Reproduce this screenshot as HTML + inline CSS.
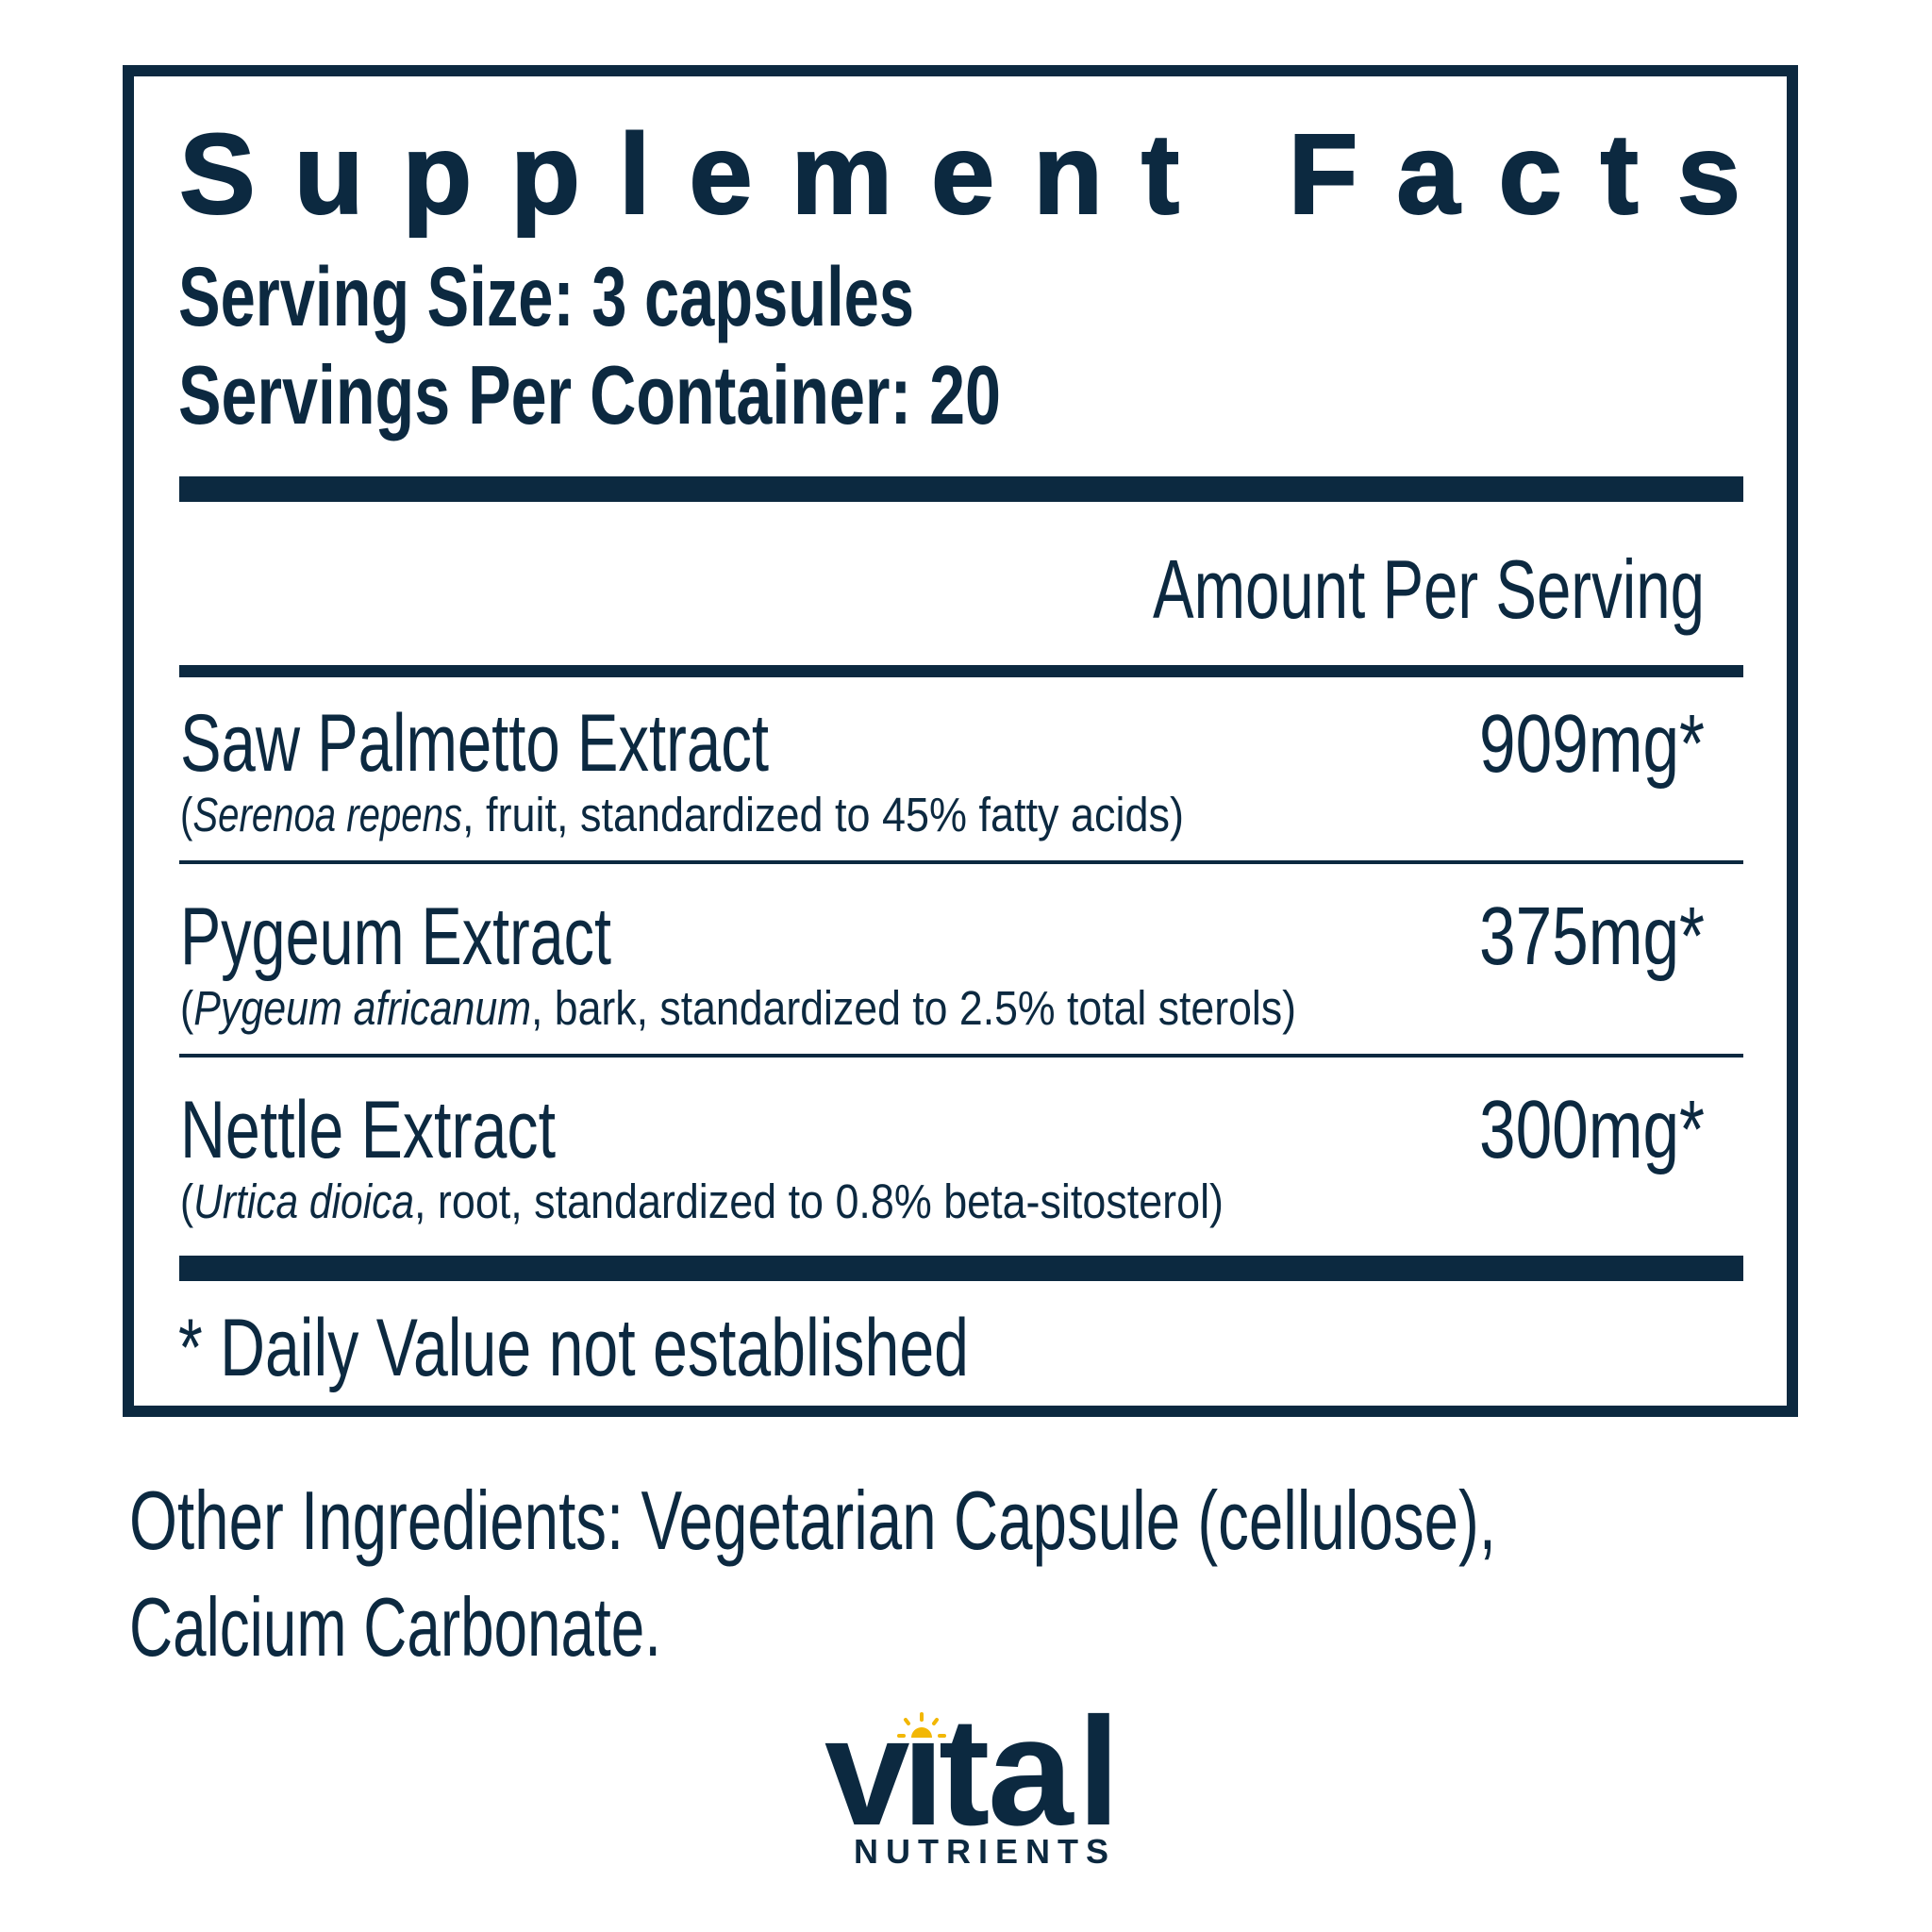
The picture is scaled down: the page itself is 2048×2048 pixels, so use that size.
<!DOCTYPE html>
<html>
<head>
<meta charset="utf-8">
<style>
html,body{margin:0;padding:0;background:#fff;}
svg{display:block;}
text{font-family:"Liberation Sans",Arial,sans-serif;fill:#0c2940;}
</style>
</head>
<body>
<svg width="2048" height="2048" viewBox="0 0 2048 2048" xmlns="http://www.w3.org/2000/svg">
<rect x="0" y="0" width="2048" height="2048" fill="#ffffff"/>
<!-- Box -->
<rect x="136" y="75" width="1764" height="1421" fill="none" stroke="#0c2940" stroke-width="12"/>

<!-- Title -->
<text x="190" y="226" font-size="121" font-weight="bold" stroke="#0c2940" stroke-width="2" textLength="1655" lengthAdjust="spacing">Supplement Facts</text>

<text x="189" y="345" font-size="89" font-weight="bold" textLength="780" lengthAdjust="spacingAndGlyphs">Serving Size: 3 capsules</text>
<text x="189" y="449" font-size="88" font-weight="bold" textLength="872" lengthAdjust="spacingAndGlyphs">Servings Per Container: 20</text>

<rect x="190" y="505" width="1658" height="27" fill="#0c2940"/>

<text x="1222" y="655" font-size="88" textLength="585" lengthAdjust="spacingAndGlyphs">Amount Per Serving</text>

<rect x="190" y="705" width="1658" height="13" fill="#0c2940"/>

<!-- Row 1 -->
<text x="191" y="817" font-size="86" textLength="624" lengthAdjust="spacingAndGlyphs">Saw Palmetto Extract</text>
<text x="1568" y="818" font-size="87" textLength="239" lengthAdjust="spacingAndGlyphs">909mg*</text>
<text x="191" y="881" font-size="51" textLength="299" lengthAdjust="spacingAndGlyphs">(<tspan font-style="italic">Serenoa repens</tspan></text>
<text x="490" y="881" font-size="51" textLength="765" lengthAdjust="spacingAndGlyphs">, fruit, standardized to 45% fatty acids)</text>

<rect x="190" y="912" width="1658" height="4" fill="#0c2940"/>

<!-- Row 2 -->
<text x="191" y="1022" font-size="86" textLength="457" lengthAdjust="spacingAndGlyphs">Pygeum Extract</text>
<text x="1568" y="1022" font-size="87" textLength="239" lengthAdjust="spacingAndGlyphs">375mg*</text>
<text x="191" y="1086" font-size="51" textLength="372" lengthAdjust="spacingAndGlyphs">(<tspan font-style="italic">Pygeum africanum</tspan></text>
<text x="563" y="1086" font-size="51" textLength="811" lengthAdjust="spacingAndGlyphs">, bark, standardized to 2.5% total sterols)</text>

<rect x="190" y="1117" width="1658" height="4" fill="#0c2940"/>

<!-- Row 3 -->
<text x="191" y="1227" font-size="86" textLength="398" lengthAdjust="spacingAndGlyphs">Nettle Extract</text>
<text x="1568" y="1227" font-size="87" textLength="239" lengthAdjust="spacingAndGlyphs">300mg*</text>
<text x="191" y="1291" font-size="51" textLength="248" lengthAdjust="spacingAndGlyphs">(<tspan font-style="italic">Urtica dioica</tspan></text>
<text x="439" y="1291" font-size="51" textLength="858" lengthAdjust="spacingAndGlyphs">, root, standardized to 0.8% beta-sitosterol)</text>

<rect x="190" y="1331" width="1658" height="27" fill="#0c2940"/>

<text x="189" y="1458" font-size="86" textLength="838" lengthAdjust="spacingAndGlyphs">* Daily Value not established</text>

<!-- Other ingredients -->
<text x="137" y="1642" font-size="88" textLength="1449" lengthAdjust="spacingAndGlyphs">Other Ingredients: Vegetarian Capsule (cellulose),</text>
<text x="137" y="1755" font-size="88" textLength="564" lengthAdjust="spacingAndGlyphs">Calcium Carbonate.</text>

<!-- Logo -->
<text x="874 956 995 1047 1142" y="1934" font-size="163" font-weight="bold">vital</text>
<rect x="950" y="1796" width="44" height="49" fill="#ffffff"/>
<g fill="#f2b705" stroke="#f2b705" stroke-width="4" stroke-linecap="round">
  <path d="M966 1842 A11 11 0 0 1 988 1842 Z" stroke="none"/>
  <line x1="953" y1="1840" x2="958" y2="1840"/>
  <line x1="996" y1="1840" x2="1001" y2="1840"/>
  <line x1="960" y1="1823" x2="963" y2="1827"/>
  <line x1="977" y1="1817" x2="977" y2="1823"/>
  <line x1="990" y1="1827" x2="993" y2="1823"/>
</g>
<text x="905" y="1975" font-size="36" font-weight="bold" textLength="270" lengthAdjust="spacing">NUTRIENTS</text>
</svg>
</body>
</html>
